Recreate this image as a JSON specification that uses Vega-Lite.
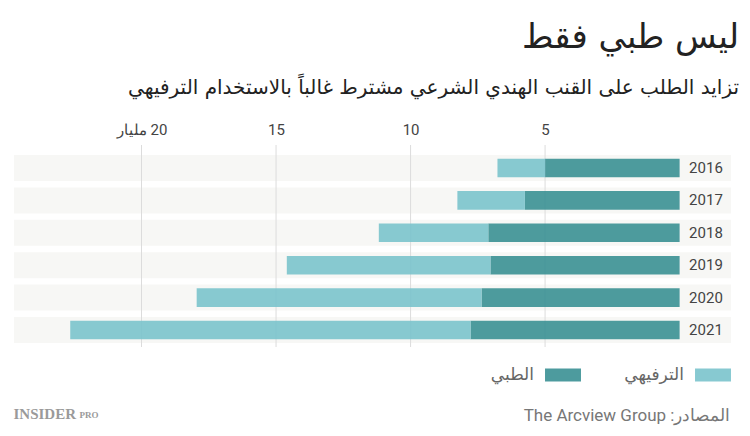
{
  "$schema": "https://vega.github.io/schema/vega-lite/v6.json",
  "width": 717,
  "height": 202,
  "autosize": "none",
  "padding": {"left": 14, "top": 145, "right": 19, "bottom": 89},
  "background": "white",
  "title": {
    "text": "ليس طبي فقط",
    "subtitle": "تزايد الطلب على القنب الهندي الشرعي مشترط غالباً بالاستخدام الترفيهي",
    "anchor": "end",
    "frame": "group",
    "dx": 8,
    "font": "DejaVu Sans",
    "fontSize": 34,
    "fontWeight": "normal",
    "color": "#222222",
    "subtitleFont": "DejaVu Sans",
    "subtitleFontSize": 20,
    "subtitleColor": "#222222",
    "subtitlePadding": 23,
    "offset": 24
  },
  "config": {
    "view": {"stroke": null},
    "axis": {"labelFont": "Roboto", "titleFont": "Roboto"}
  },
  "datasets": {
    "bars": [
      {"year": 2016, "type": "الطبي", "value": 5.0},
      {"year": 2016, "type": "الترفيهي", "value": 1.77},
      {"year": 2017, "type": "الطبي", "value": 5.75},
      {"year": 2017, "type": "الترفيهي", "value": 2.51},
      {"year": 2018, "type": "الطبي", "value": 7.11},
      {"year": 2018, "type": "الترفيهي", "value": 4.07},
      {"year": 2019, "type": "الطبي", "value": 7.03},
      {"year": 2019, "type": "الترفيهي", "value": 7.57},
      {"year": 2020, "type": "الطبي", "value": 7.36},
      {"year": 2020, "type": "الترفيهي", "value": 10.59},
      {"year": 2021, "type": "الطبي", "value": 7.77},
      {"year": 2021, "type": "الترفيهي", "value": 14.88}
    ],
    "years": [
      {"year": 2016}, {"year": 2017}, {"year": 2018},
      {"year": 2019}, {"year": 2020}, {"year": 2021}
    ],
    "grid": [{"v": 5}, {"v": 10}, {"v": 15}, {"v": 20}]
  },
  "resolve": {"axis": {"x": "independent", "y": "independent"}},
  "layer": [
    {
      "data": {"name": "years"},
      "mark": {"type": "bar", "color": "#f7f7f5", "height": {"band": 1}},
      "encoding": {
        "y": {
          "field": "year", "type": "ordinal",
          "scale": {"paddingInner": 0.196, "paddingOuter": 0.216, "align": 0.714},
          "axis": {
            "orient": "right", "labels": false, "ticks": false, "domain": false, "grid": false,
            "title": "PRO", "titleAngle": 0, "titleAlign": "left", "titleBaseline": "middle",
            "titleX": -652, "titleY": 269, "titleFont": "Liberation Serif", "titleFontSize": 9,
            "titleFontWeight": "bold", "titleColor": "#9a9a9a"
          }
        },
        "x": {"datum": 24.74, "axis": null,
              "scale": {"domain": [-1.91, 24.74], "reverse": true, "nice": false, "zero": false}},
        "x2": {"datum": -1.91}
      }
    },
    {
      "data": {"name": "grid"},
      "mark": {"type": "rule", "color": "#dcdcdc", "strokeWidth": 1},
      "encoding": {
        "x": {"field": "v", "type": "quantitative", "axis": null,
              "scale": {"domain": [-1.91, 24.74], "reverse": true, "nice": false, "zero": false}}
      }
    },
    {
      "data": {"name": "bars"},
      "mark": {"type": "bar", "height": {"band": 0.715}, "opacity": 0.9},
      "encoding": {
        "y": {"field": "year", "type": "ordinal", "axis": null,
              "scale": {"paddingInner": 0.196, "paddingOuter": 0.216, "align": 0.714}},
        "x": {
          "field": "value", "type": "quantitative", "stack": "zero",
          "scale": {"domain": [-1.91, 24.74], "reverse": true, "nice": false, "zero": false},
          "axis": {
            "orient": "top", "values": [5, 10, 15, 20], "grid": false, "domain": false,
            "ticks": false, "labelPadding": 8, "labelFontSize": 15, "labelColor": "#444444",
            "title": null,
            "labelExpr": "datum.value == 20 ? '\u202b20 مليار\u202c' : datum.label"
          }
        },
        "color": {
          "field": "type", "type": "nominal", "sort": "descending",
          "scale": {"range": ["#3a9093", "#7ac3cc"]},
          "legend": {
            "title": null, "orient": "none", "legendX": 536, "legendY": 217,
            "direction": "horizontal",
            "symbolType": "M-1.4,-0.5H1.4V0.5H-1.4Z", "symbolSize": 660,
            "symbolStrokeWidth": 0, "symbolOpacity": 0.9,
            "labelAlign": "right", "labelOffset": -42, "labelFontSize": 17,
            "labelColor": "#666666", "labelFont": "DejaVu Sans",
            "columnPadding": 43
          }
        },
        "order": {"field": "type", "sort": "descending"}
      }
    },
    {
      "data": {"name": "years"},
      "mark": {"type": "text", "font": "Roboto", "fontSize": 15, "color": "#444444",
               "align": "center", "baseline": "middle"},
      "encoding": {
        "y": {
          "field": "year", "type": "ordinal",
          "axis": {
            "orient": "left", "labels": false, "ticks": false, "domain": false, "grid": false,
            "title": "INSIDER", "titleAngle": 0, "titleAlign": "left", "titleBaseline": "middle",
            "titleX": -1, "titleY": 268, "titleFont": "Liberation Serif", "titleFontSize": 15,
            "titleFontWeight": "bold", "titleColor": "#9a9a9a"
          }
        },
        "x": {
          "datum": -0.98,
          "axis": {
            "orient": "bottom", "labels": false, "ticks": false, "domain": false, "grid": false,
            "title": "\u202bالمصادر: The Arcview Group\u202c", "titleAlign": "right",
            "titleBaseline": "middle", "titleX": 716, "titleY": 68, "titleFontSize": 17,
            "titleFontWeight": "normal", "titleColor": "#777777", "titleFont": "Roboto"
          }
        },
        "text": {"field": "year"}
      }
    }
  ]
}
